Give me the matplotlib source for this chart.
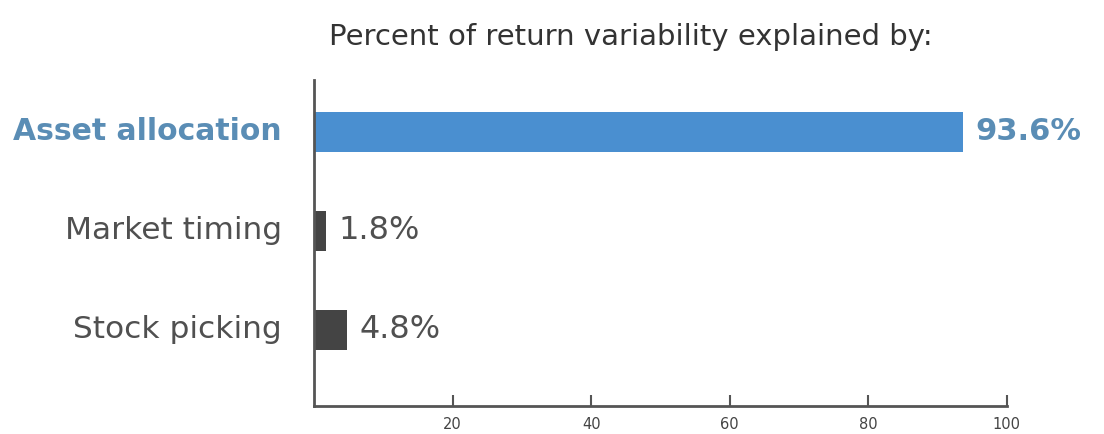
import matplotlib
matplotlib.use("Agg")
import matplotlib.pyplot as plt

categories = ["Asset allocation", "Market timing", "Stock picking"]
values = [93.6, 1.8, 4.8]
value_labels = ["93.6%", "1.8%", "4.8%"]
xticks = [20, 40, 60, 80, 100]

plt.rcParams["font.family"] = ["DejaVu Sans"]

blue = "#4a8fd0"
blue_text = "#5a8db5"
dark = "#444444"
gray_text = "#505050"

fig = plt.figure(figsize=(11.04, 4.34), dpi=100)
ax = fig.add_axes([0.2844, 0.0645, 0.6276, 0.7515])

bar_colors = [blue, dark, dark]
ypos = list(range(len(categories)))
ax.barh(ypos, values, height=0.40, color=bar_colors)

ax.set_xlim(0, 100)
ax.set_ylim(2.77, -0.525)

for spine in ["top", "right"]:
    ax.spines[spine].set_visible(False)
for spine in ["left", "bottom"]:
    ax.spines[spine].set_color("#555555")
    ax.spines[spine].set_linewidth(2)

ax.set_xticks(xticks)
ax.set_xticklabels([str(t) for t in xticks], fontsize=10.5, color="#444444")
ax.tick_params(axis="x", direction="in", length=8, width=1.5, color="#555555", pad=8)
ax.set_yticks([])

# category labels left of the axis, value labels right of each bar
for i, (cat, v, lab) in enumerate(zip(categories, values, value_labels)):
    is_main = i == 0
    color = blue_text if is_main else gray_text
    weight = "bold" if is_main else "normal"
    size = 21.5 if is_main else 22.5
    ax.text(-0.046, i, cat, transform=ax.get_yaxis_transform(),
            ha="right", va="center", fontsize=size, color=color, fontweight=weight)
    ax.text(v + 1.8, i, lab, ha="left", va="center", fontsize=size + 0.5,
            color=color, fontweight=weight)

fig.text(0.571, 0.915, "Percent of return variability explained by:",
         ha="center", va="center", fontsize=21, color="#333333")

fig.savefig("out.png", dpi=100, facecolor="white")
